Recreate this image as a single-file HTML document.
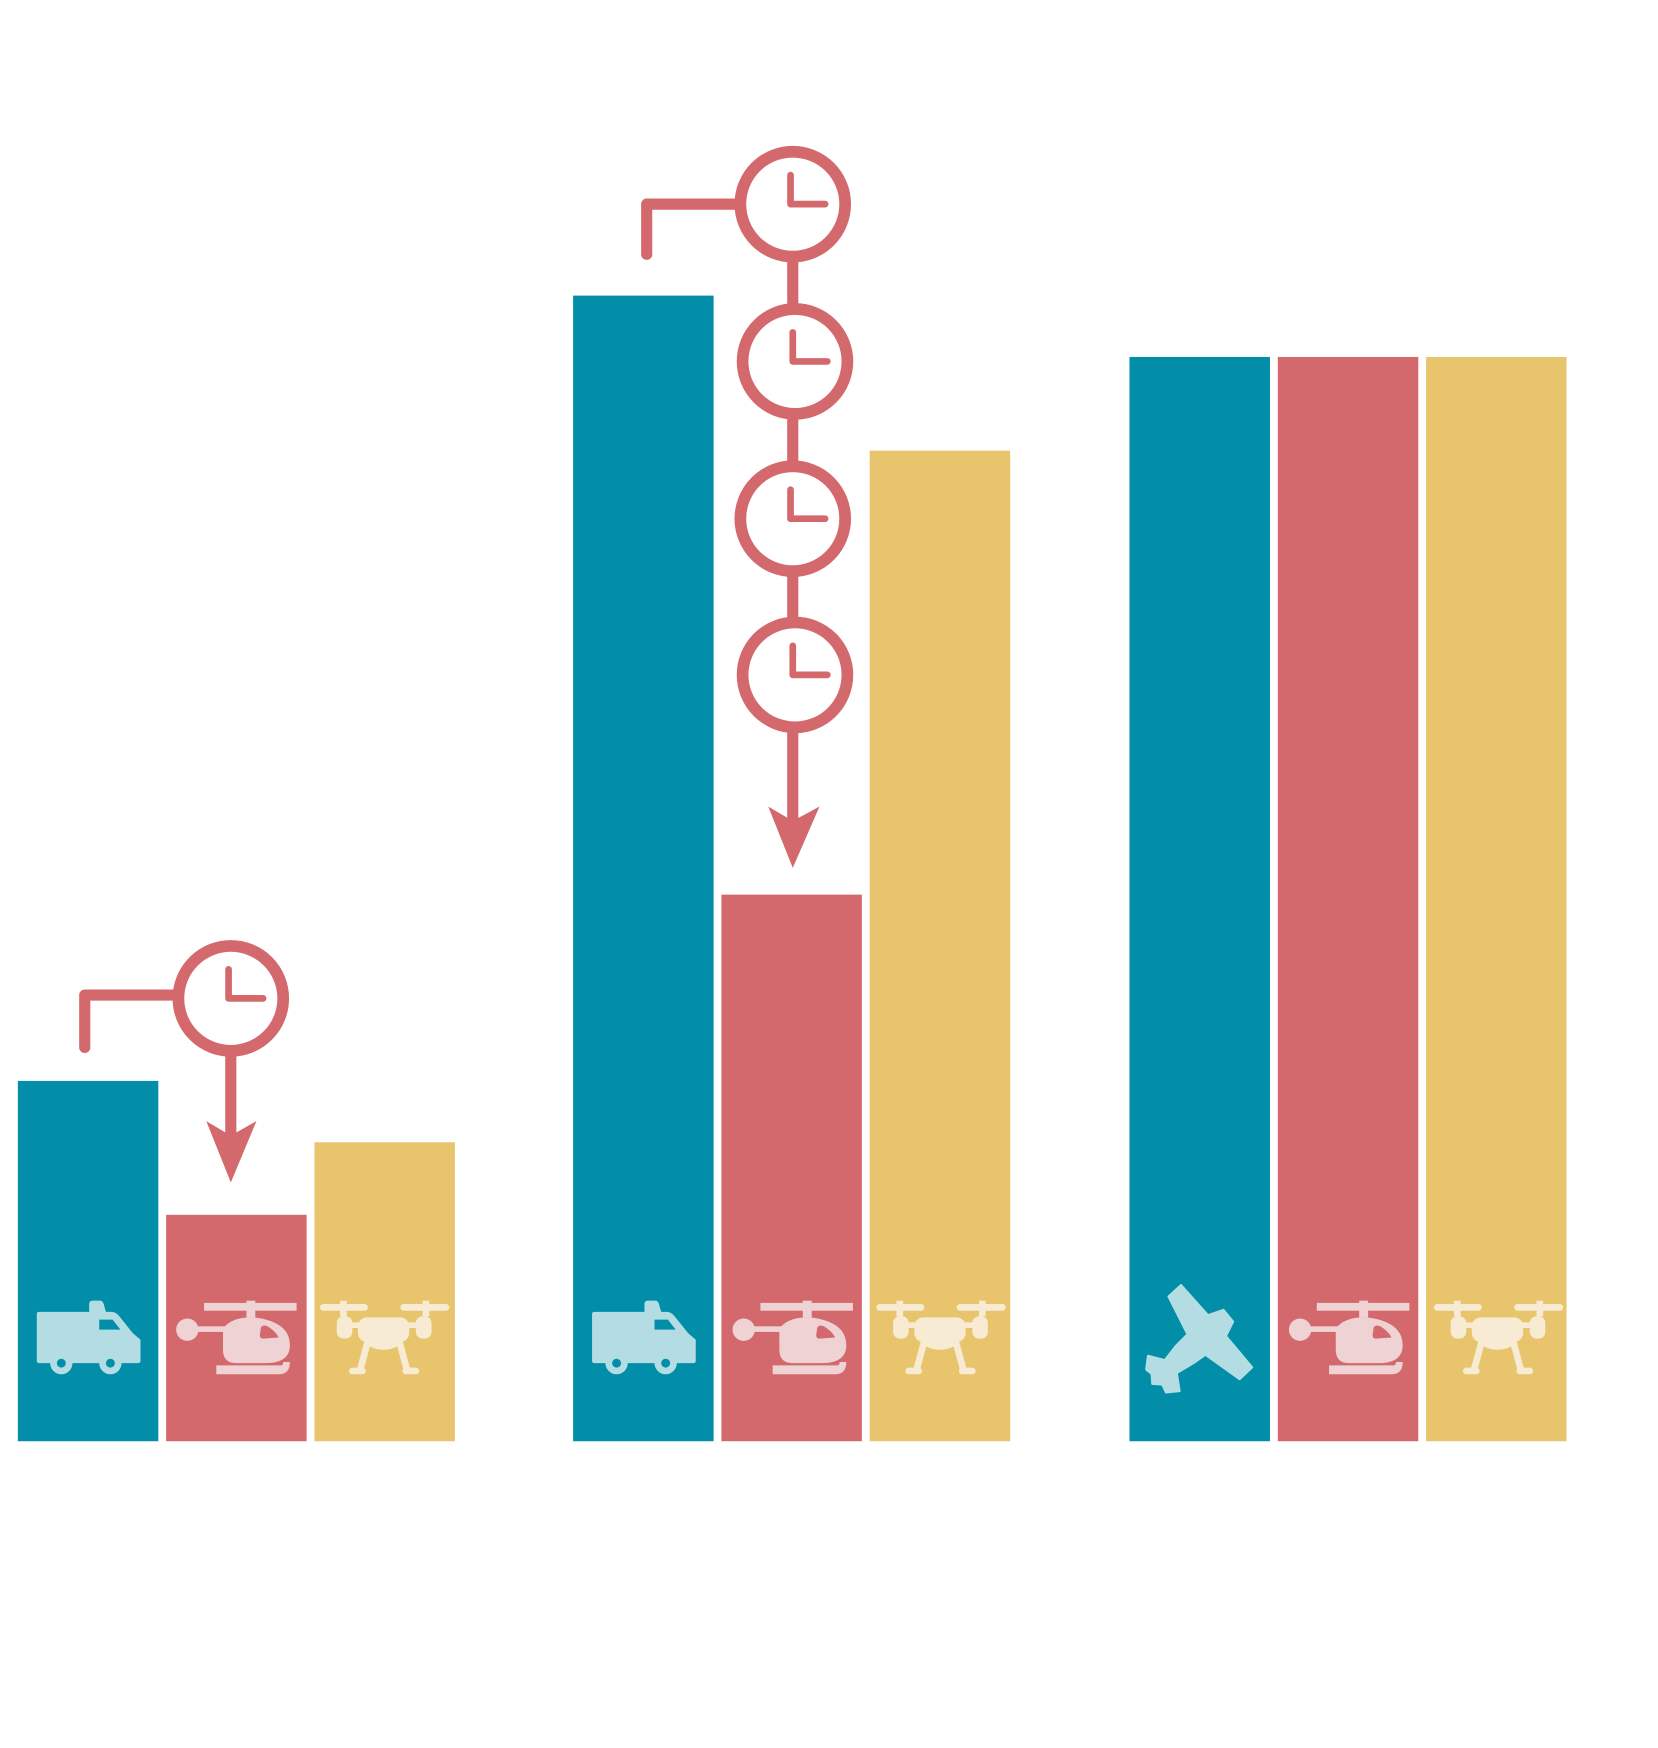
<!DOCTYPE html>
<html><head><meta charset="utf-8"><style>html,body{margin:0;padding:0;background:#fff}svg{display:block}</style></head>
<body>
<svg width="1658" height="1748" viewBox="0 0 1487 1567" preserveAspectRatio="none" xmlns="http://www.w3.org/2000/svg">
<defs>
<g id="amb">
<path d="M2,10 H47 V3 Q47,0 50,0 H57 Q59,0 60,3 L62,10 H67 Q71,10 74,14 L86,29 L93,35 V54 Q93,56 91,56 H2 Q0,56 0,54 V12 Q0,10 2,10 Z" fill="#b3dde3"/>
<path d="M56,17 H68 L75,26 H56 Z" fill="#028ea8"/>
<circle cx="22" cy="56" r="10" fill="#b3dde3"/><circle cx="22" cy="56" r="4" fill="#028ea8"/>
<circle cx="66" cy="56" r="10" fill="#b3dde3"/><circle cx="66" cy="56" r="4" fill="#028ea8"/>
</g>
<g id="heli" fill="#efd2d3">
<rect x="27" y="2" width="83" height="7"/>
<rect x="65" y="0" width="8" height="15"/>
<circle cx="12" cy="26" r="10"/>
<rect x="12" y="23" width="36" height="5"/>
<path d="M44,25 Q52,14 72,15 Q104,19 104,40 Q104,56 82,56 H56 Q44,56 44,44 Z"/>
<path d="M78,24 Q80,21 84,23 Q91,27 94,33 L80,34 Q77,34 77,31 Z" fill="#d3696d"/>
<path d="M38,58 H96 Q98,58 98,55 H104 Q104,66 94,66 H38 Z"/>
</g>
<g id="drone" fill="#f8ebd3" stroke="#f8ebd3">
<line x1="3" y1="6" x2="40" y2="6" stroke-width="6" stroke-linecap="round"/>
<line x1="75" y1="6" x2="113" y2="6" stroke-width="6" stroke-linecap="round"/>
<rect x="18" y="0" width="6" height="14" stroke="none"/>
<rect x="92" y="0" width="6" height="14" stroke="none"/>
<rect x="15" y="14" width="14" height="20" rx="6" stroke="none"/>
<rect x="86" y="14" width="14" height="20" rx="6" stroke="none"/>
<line x1="25" y1="22" x2="90" y2="22" stroke-width="5"/>
<rect x="34" y="15" width="46" height="22" rx="8" stroke="none"/>
<ellipse cx="57" cy="35" rx="16" ry="9" stroke="none"/>
<path d="M43,36 L36,62 M71,36 L78,62" stroke-width="6" fill="none"/>
<line x1="29" y1="63" x2="38" y2="63" stroke-width="6" stroke-linecap="round"/>
<line x1="77" y1="63" x2="86" y2="63" stroke-width="6" stroke-linecap="round"/>
</g>
<g id="clock">
<circle cx="0" cy="0" r="47" fill="#fff" stroke="#d3696d" stroke-width="10.5"/>
<path d="M-2,-26 V0 H29" fill="none" stroke="#d3696d" stroke-width="6" stroke-linecap="round" stroke-linejoin="round"/>
</g>
</defs>

<rect x="16" y="969" width="126" height="323" fill="#028ea8"/>
<rect x="149" y="1089" width="126" height="203" fill="#d3696d"/>
<rect x="282" y="1024" width="126" height="268" fill="#e8c46c"/>
<use href="#amb" x="33" y="1166"/>
<use href="#heli" x="156" y="1166"/>
<use href="#drone" x="287" y="1166"/>

<rect x="514" y="265" width="126" height="1027" fill="#028ea8"/>
<rect x="647" y="802" width="126" height="490" fill="#d3696d"/>
<rect x="780" y="404" width="126" height="888" fill="#e8c46c"/>
<use href="#amb" x="531" y="1166"/>
<use href="#heli" x="655" y="1166"/>
<use href="#drone" x="786" y="1166"/>

<rect x="1013" y="320" width="126" height="972" fill="#028ea8"/>
<rect x="1146" y="320" width="126" height="972" fill="#d3696d"/>
<rect x="1279" y="320" width="126" height="972" fill="#e8c46c"/>
<g transform="translate(1028,1152) scale(0.322) translate(-133,-243)">
<path d="M195,275 L230,243 L305,327 L348,312 L375,345 L355,385 L428,472 L393,505 L298,437 L268,458 L218,488 L226,538 L188,542 L178,520 L150,518 L148,490 L133,478 L138,440 L185,452 L215,413 L248,380 Z" fill="#b3dde3" stroke="#b3dde3" stroke-width="6" stroke-linejoin="round"/>
</g>
<use href="#heli" x="1154" y="1166"/>
<use href="#drone" x="1286" y="1166"/>

<g stroke="#d3696d" stroke-width="10" fill="none" stroke-linecap="round" stroke-linejoin="round">
<path d="M76,939 V892 H160"/>
<line x1="207" y1="940" x2="207" y2="1028" stroke-linecap="butt"/>
</g>
<path d="M185,1005 L207,1018 L230,1005 L207,1060 Z" fill="#d3696d"/>
<use href="#clock" x="207" y="895"/>

<g stroke="#d3696d" stroke-width="10" fill="none" stroke-linecap="round" stroke-linejoin="round">
<path d="M580,228 V183 H662"/>
<line x1="711" y1="230" x2="711" y2="280" stroke-linecap="butt"/>
<line x1="711" y1="370" x2="711" y2="420" stroke-linecap="butt"/>
<line x1="711" y1="510" x2="711" y2="560" stroke-linecap="butt"/>
<line x1="711" y1="650" x2="711" y2="746" stroke-linecap="butt"/>
</g>
<path d="M689,723 L711,736 L735,723 L711,778 Z" fill="#d3696d"/>
<use href="#clock" x="711" y="183"/>
<use href="#clock" x="713" y="324"/>
<use href="#clock" x="711" y="465"/>
<use href="#clock" x="713" y="605"/>
</svg>
</body></html>
